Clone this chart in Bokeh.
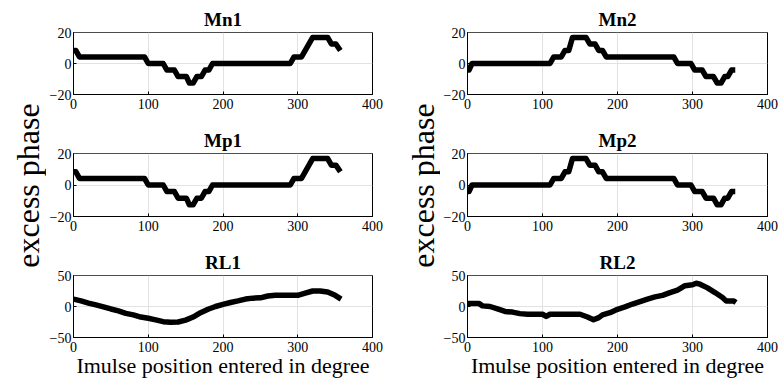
import math
from bokeh.plotting import figure
from bokeh.layouts import column, row
from bokeh.models import Range1d, Label, Span
from bokeh.embed import file_html
from bokeh.resources import INLINE

FONT = "Liberation Serif"

x_ticks = [0, 100, 200, 300, 400]
m_yticks = [-20, 0, 20]
rl_yticks = [-50, 0, 50]

titles = ["Mn1", "Mn2", "Mp1", "Mp2", "RL1", "RL2"]
y_label = "excess phase"
x_label = "Imulse position entered in degree"

Mn1_x = [0, 3, 8, 95, 100, 120, 125, 135, 140, 151, 155, 160, 165, 171, 176, 181, 186, 290, 295, 305, 320, 340, 345, 351, 357]
Mn1_y = [8.4, 8.4, 4.2, 4.2, 0, 0, -4.2, -4.2, -8.4, -8.4, -12.6, -12.6, -8.4, -8.4, -4.2, -4.2, 0, 0, 4.2, 4.2, 16.8, 16.8, 12.6, 12.6, 8.4]

Mp1_x = [0, 3, 8, 95, 100, 120, 125, 135, 140, 151, 155, 160, 165, 171, 176, 181, 186, 290, 295, 305, 320, 340, 345, 351, 357]
Mp1_y = [8.4, 8.4, 4.2, 4.2, 0, 0, -4.2, -4.2, -8.4, -8.4, -12.6, -12.6, -8.4, -8.4, -4.2, -4.2, 0, 0, 4.2, 4.2, 16.8, 16.8, 12.6, 12.6, 8.4]

Mn2_x = [0, 2, 6, 110, 115, 125, 130, 135, 140, 158, 163, 170, 175, 180, 185, 275, 280, 298, 303, 313, 318, 328, 333, 338, 343, 347, 352, 357]
Mn2_y = [-4.2, -4.2, 0, 0, 4.2, 4.2, 8.4, 8.4, 16.8, 16.8, 12.6, 12.6, 8.4, 8.4, 4.2, 4.2, 0, 0, -4.2, -4.2, -8.4, -8.4, -12.6, -12.6, -8.4, -8.4, -4.2, -4.2]

Mp2_x = [0, 2, 6, 110, 115, 125, 130, 135, 140, 158, 163, 170, 175, 180, 185, 275, 280, 298, 303, 313, 318, 328, 333, 338, 343, 347, 352, 357]
Mp2_y = [-4.2, -4.2, 0, 0, 4.2, 4.2, 8.4, 8.4, 16.8, 16.8, 12.6, 12.6, 8.4, 8.4, 4.2, 4.2, 0, 0, -4.2, -4.2, -8.4, -8.4, -12.6, -12.6, -8.4, -8.4, -4.2, -4.2]

RL1_x = [0, 10, 20, 30, 40, 50, 60, 70, 80, 90, 100, 110, 120, 130, 140, 150, 160, 170, 180, 190, 200, 210, 220, 230, 240, 250, 260, 270, 280, 290, 300, 310, 320, 330, 340, 350, 358]
RL1_y = [12, 9, 5.5, 2.5, -0.5, -4, -7, -11, -13.5, -17, -19, -21.5, -24.5, -25.5, -25, -22, -17, -10, -4.5, 0, 3.5, 6.5, 9, 12, 13.5, 14, 17, 18, 18, 18, 18, 21.5, 25, 25, 23.5, 18, 12]

RL2_x = [0, 15, 20, 30, 40, 50, 60, 70, 80, 100, 105, 110, 150, 160, 168, 175, 180, 190, 200, 210, 220, 230, 240, 250, 260, 270, 280, 290, 300, 305, 310, 320, 330, 340, 345, 355, 358]
RL2_y = [5, 5, 1, 0, -4, -8, -9, -11.5, -12.5, -12.5, -16, -12.5, -12.5, -17, -21.5, -18, -13.5, -10, -4.5, -0.5, 4, 8, 12, 15.5, 18, 22.5, 26.5, 33.5, 35, 37.5, 36, 30, 22.5, 14.5, 9, 9, 6.5]

TOTAL_H = 392
ROW_H = [123, 122, 147]
ROW_TOP = [32, 30, 30]
ROW_BOTTOM = [29, 29, 55]
COL_W = [356, 339]
COL_RIGHT = [30, 12]
LAB_W = [46, 38]
LAB_X = [27, 20]
LAB_Y = TOTAL_H - 185


def make(title, xs, ys, yticks, col_i, row_i):
    p = figure(width=COL_W[col_i], height=ROW_H[row_i], output_backend="svg",
               toolbar_location=None, x_range=Range1d(0, 400),
               y_range=Range1d(yticks[0], yticks[-1]), title=title,
               min_border_left=24, min_border_right=COL_RIGHT[col_i],
               min_border_top=ROW_TOP[row_i], min_border_bottom=ROW_BOTTOM[row_i])
    p.title.text_font = FONT
    p.title.text_font_size = "19px"
    p.title.text_font_style = "bold"
    p.title.align = "center"
    p.title.standoff = 6
    p.title.offset = 0
    p.title.text_color = "black"
    p.outline_line_color = "black"
    p.outline_line_alpha = 1
    p.outline_line_width = 1
    p.background_fill_color = "white"
    p.border_fill_color = "white"
    p.xaxis.ticker = x_ticks
    p.yaxis.ticker = yticks
    for ax in (p.xaxis, p.yaxis):
        ax.major_label_text_font = FONT
        ax.major_label_text_font_size = "14px"
        ax.major_label_text_color = "black"
        ax.axis_line_color = "black"
        ax.major_tick_line_color = "black"
        ax.major_tick_in = 3
        ax.major_tick_out = 0
        ax.minor_tick_line_color = None
    p.xaxis.major_label_standoff = 4
    p.yaxis.major_label_standoff = 2
    p.xgrid.grid_line_color = "#e2e2e2"
    p.ygrid.grid_line_color = "#e2e2e2"
    p.line(xs, ys, line_color="black", line_width=5.5, line_join="round")
    p.add_layout(Span(location=yticks[-1], dimension="width",
                      line_color="#9a9a9a", line_width=1))
    if row_i == 2:
        p.xaxis.axis_label = x_label
        p.xaxis.axis_label_text_font = FONT
        p.xaxis.axis_label_text_font_size = "22px"
        p.xaxis.axis_label_text_font_style = "normal"
        p.xaxis.axis_label_text_color = "black"
        p.xaxis.axis_label_standoff = -2
    return p


def label_fig(col_i):
    p = figure(width=LAB_W[col_i], height=TOTAL_H, output_backend="svg",
               toolbar_location=None, x_axis_type=None, y_axis_type=None,
               min_border=0, x_range=Range1d(0, 1), y_range=Range1d(0, 1))
    p.outline_line_color = None
    p.grid.grid_line_color = None
    p.background_fill_color = "white"
    p.border_fill_color = "white"
    p.add_layout(Label(x=LAB_X[col_i], y=LAB_Y, x_units="screen", y_units="screen",
                       text=y_label, angle=math.pi / 2, text_align="center",
                       text_baseline="middle", text_font=FONT,
                       text_font_size="32px", text_color="black"))
    return p


data = [(Mn1_x, Mn1_y, m_yticks), (Mn2_x, Mn2_y, m_yticks),
        (Mp1_x, Mp1_y, m_yticks), (Mp2_x, Mp2_y, m_yticks),
        (RL1_x, RL1_y, rl_yticks), (RL2_x, RL2_y, rl_yticks)]

cols = []
for c in range(2):
    figs = []
    for r in range(3):
        i = r * 2 + c
        xs, ys, yt = data[i]
        figs.append(make(titles[i], xs, ys, yt, c, r))
    cols.append(label_fig(c))
    cols.append(column(*figs))

layout = row(*cols)
open("out.html", "w").write(file_html(layout, INLINE))
